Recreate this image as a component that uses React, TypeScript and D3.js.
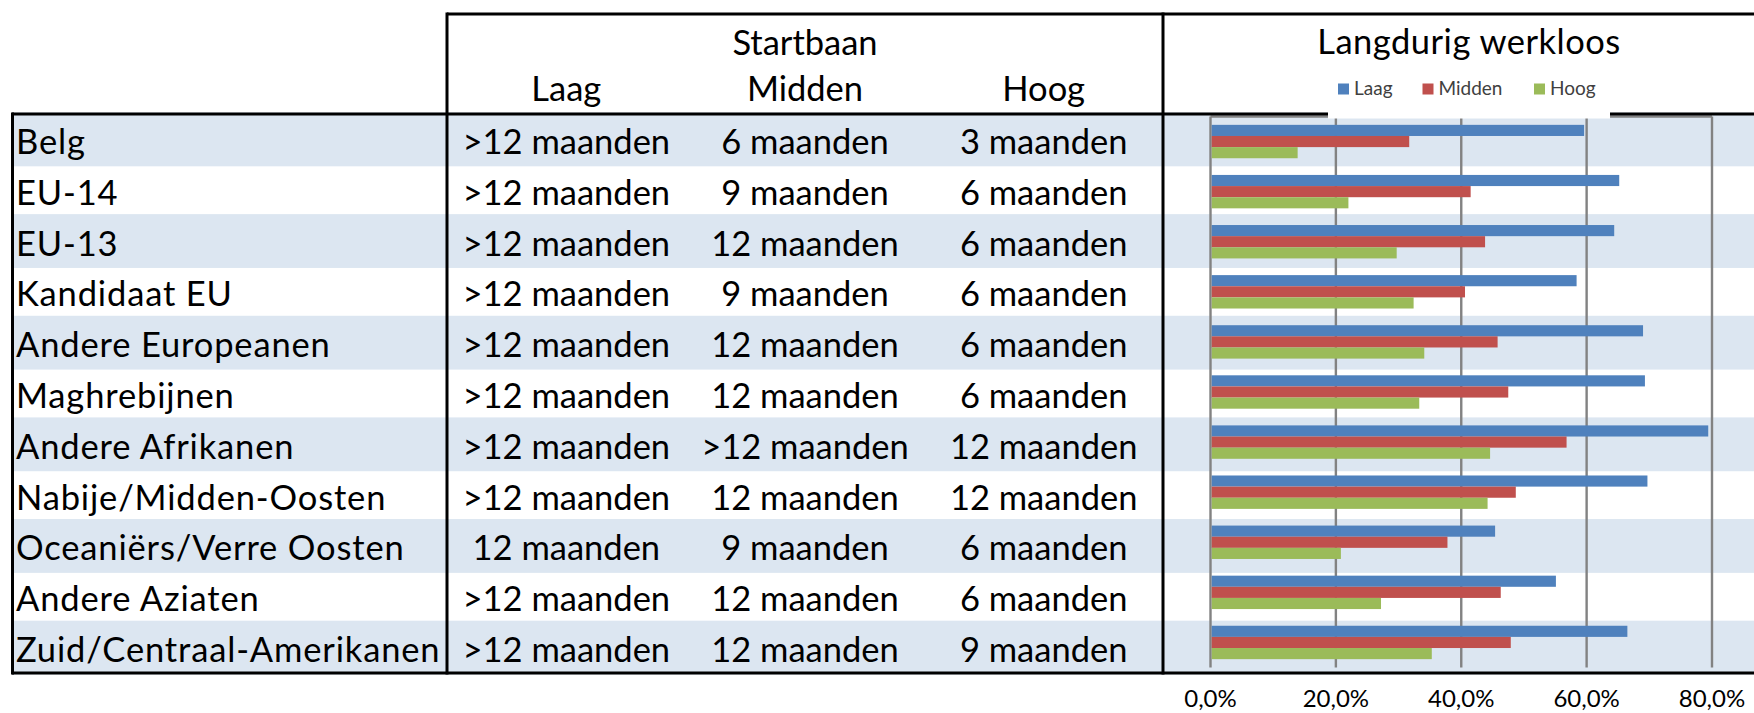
import React from 'react';
import * as d3 from 'd3';

const categories = [
  'Belg', 'EU-14', 'EU-13', 'Kandidaat EU', 'Andere Europeanen', 'Maghrebijnen',
  'Andere Afrikanen', 'Nabije/Midden-Oosten', 'Oceaniërs/Verre Oosten', 'Andere Aziaten',
  'Zuid/Centraal-Amerikanen',
];
const startLaag = ['>12 maanden', '>12 maanden', '>12 maanden', '>12 maanden', '>12 maanden', '>12 maanden', '>12 maanden', '>12 maanden', '12 maanden', '>12 maanden', '>12 maanden'];
const startMidden = ['6 maanden', '9 maanden', '12 maanden', '9 maanden', '12 maanden', '12 maanden', '>12 maanden', '12 maanden', '9 maanden', '12 maanden', '12 maanden'];
const startHoog = ['3 maanden', '6 maanden', '6 maanden', '6 maanden', '6 maanden', '6 maanden', '12 maanden', '12 maanden', '6 maanden', '6 maanden', '9 maanden'];
const tableHeaders = ['Laag', 'Midden', 'Hoog'];

const seriesNames = ['Laag', 'Midden', 'Hoog'];
const laag = [0.596, 0.652, 0.644, 0.584, 0.690, 0.693, 0.794, 0.697, 0.454, 0.551, 0.665];
const midden = [0.317, 0.415, 0.438, 0.406, 0.458, 0.475, 0.568, 0.487, 0.378, 0.463, 0.479];
const hoog = [0.139, 0.220, 0.297, 0.324, 0.341, 0.333, 0.446, 0.442, 0.208, 0.272, 0.353];
const xTicks = [0, 0.2, 0.4, 0.6, 0.8];
const seriesColors = ['#4F81BD', '#C0504D', '#9BBB59'];

const W = 1754;
const H = 713;
const FONT = "Lato, 'Open Sans', sans-serif";

export default function App() {
  const series = [laag, midden, hoog];

  // table geometry
  const rowY = d3.scaleBand<string>().domain(categories).range([114, 673]).padding(0);
  const colX = d3.scaleBand<string>().domain(tableHeaders).range([447, 1163]).padding(0);

  // chart geometry
  const x = d3.scaleLinear().domain([0, 0.8]).range([1210.5, 1712]);
  const y = d3.scaleBand<string>().domain(categories).range([116.5, 667.5])
    .paddingInner(1 / 3).paddingOuter(1 / 6);
  const ySub = d3.scaleBand<string>().domain(seriesNames).range([0, y.bandwidth()]).padding(0);

  const nl = d3.formatLocale({ decimal: ',', thousands: '.', grouping: [3], currency: ['€', ''] });
  const fmt = nl.format('.1%');

  const mainSize = 34.5;
  const legendX = [1338, 1422.5, 1534];

  return (
    <svg width={W} height={H} style={{ position: 'absolute', left: 0, top: 0, display: 'block', background: '#fff' }}
      fontFamily={FONT}>
      {/* row bands */}
      {categories.map((c, i) => i % 2 === 0 ? (
        <rect key={'band' + c} x={12} y={(rowY(c) as number) - 1.5} width={W - 12}
          height={rowY.bandwidth() + 3} fill="#DCE6F1" />
      ) : null)}

      {/* gridlines */}
      {xTicks.map(t => (
        <line key={'g' + t} x1={x(t)} x2={x(t)} y1={116.5} y2={667.5} stroke="#828282" strokeWidth={2.4} />
      ))}
      <line x1={x(0)} x2={x(0.8)} y1={116.5} y2={116.5} stroke="#828282" strokeWidth={2.4} />

      {/* bars */}
      {categories.map((c, i) => (
        <g key={'bars' + c} transform={`translate(0,${y(c)})`}>
          {seriesNames.map((s, j) => (
            <rect key={s} x={x(0) + 1.2} y={ySub(s) as number} width={x(series[j][i]) - x(0) - 1.2}
              height={ySub.bandwidth()} fill={seriesColors[j]} />
          ))}
        </g>
      ))}

      {/* black table lines */}
      <g stroke="#000" strokeWidth={3}>
        <line x1={447} x2={W} y1={14} y2={14} />
        <line x1={12} x2={W} y1={114} y2={114} />
        <line x1={12} x2={W} y1={673} y2={673} />
        <line x1={12.5} x2={12.5} y1={112.5} y2={674.5} />
        <line x1={447} x2={447} y1={12.5} y2={674.5} />
        <line x1={1163} x2={1163} y1={12.5} y2={674.5} />
      </g>

      {/* legend box */}
      <rect x={1328} y={66} width={282} height={52.5} fill="#fff" />
      {seriesNames.map((s, j) => (
        <g key={'leg' + s}>
          <rect x={legendX[j]} y={83.5} width={11} height={11} fill={seriesColors[j]} />
          <text x={legendX[j] + 16} y={95} fontSize={19} fill="#404040">{s}</text>
        </g>
      ))}

      {/* headers */}
      <text x={805} y={55} fontSize={mainSize} textAnchor="middle">Startbaan</text>
      <text x={1469} y={54} fontSize={mainSize} letterSpacing={0.5} textAnchor="middle">Langdurig werkloos</text>
      {tableHeaders.map(h => (
        <text key={'h' + h} x={(colX(h) as number) + colX.bandwidth() / 2} y={101} fontSize={mainSize}
          textAnchor="middle">{h}</text>
      ))}

      {/* table body */}
      {categories.map((c, i) => {
        const by = (rowY(c) as number) + rowY.bandwidth() / 2 + 14.5;
        const cols = [startLaag[i], startMidden[i], startHoog[i]];
        return (
          <g key={'row' + c}>
            <text x={16} y={by} fontSize={mainSize} letterSpacing={0.85}>{c}</text>
            {tableHeaders.map((h, j) => (
              <text key={h} x={(colX(h) as number) + colX.bandwidth() / 2} y={by} fontSize={mainSize}
                textAnchor="middle">{cols[j]}</text>
            ))}
          </g>
        );
      })}

      {/* x axis labels */}
      {xTicks.map(t => (
        <text key={'t' + t} x={x(t)} y={707} fontSize={24} textAnchor="middle">{fmt(t)}</text>
      ))}
    </svg>
  );
}
